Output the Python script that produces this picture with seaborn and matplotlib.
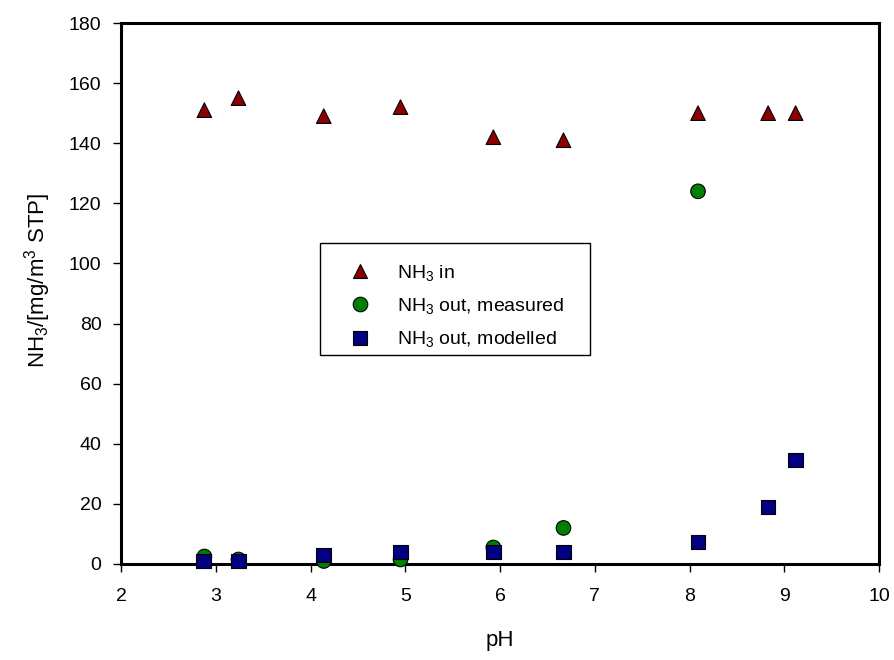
import matplotlib
matplotlib.use("Agg")
import matplotlib.pyplot as plt
from matplotlib.patches import Rectangle
import seaborn as sns
import pandas as pd

ph_in = [2.88, 3.24, 4.14, 4.95, 5.93, 6.67, 8.09, 8.83, 9.12]
nh3_in = [151, 155, 149, 152, 142, 141, 150, 150, 150]

ph_meas = [2.88, 3.24, 4.14, 4.95, 5.93, 6.67, 8.09]
nh3_meas = [2.5, 1.5, 1.0, 1.5, 5.5, 12, 124]

ph_mod = [2.87, 3.24, 4.14, 4.95, 5.93, 6.67, 8.09, 8.83, 9.12]
nh3_mod = [1.0, 1.0, 3.0, 4.0, 4.0, 4.0, 7.3, 19, 34.6]

labels = [r"NH$_3$ in", r"NH$_3$ out, measured", r"NH$_3$ out, modelled"]

df = pd.concat([
    pd.DataFrame({"pH": ph_in, "val": nh3_in, "series": labels[0]}),
    pd.DataFrame({"pH": ph_meas, "val": nh3_meas, "series": labels[1]}),
    pd.DataFrame({"pH": ph_mod, "val": nh3_mod, "series": labels[2]}),
], ignore_index=True)

sns.set_style("ticks")
plt.rcParams["font.family"] = ["Liberation Sans", "DejaVu Sans"]
plt.rcParams["mathtext.fontset"] = "custom"
plt.rcParams["mathtext.rm"] = "Liberation Sans"
plt.rcParams["mathtext.it"] = "Liberation Sans:italic"
plt.rcParams["text.color"] = "black"
plt.rcParams["axes.labelcolor"] = "black"
plt.rcParams["xtick.color"] = "black"
plt.rcParams["ytick.color"] = "black"

W, H = 894, 660
fig = plt.figure(figsize=(W / 100, H / 100), dpi=100)
ax = fig.add_axes([121 / W, 1 - 564 / H, 758 / W, 541 / H])

palette = {labels[0]: "#8b0000", labels[1]: "#008000", labels[2]: "#000080"}
markers = {labels[0]: "^", labels[1]: "o", labels[2]: "s"}
sns.scatterplot(data=df, x="pH", y="val", hue="series", style="series",
                palette=palette, markers=markers, s=110, edgecolor="black",
                linewidth=0.8, ax=ax, zorder=3, clip_on=False)

ax.set_xlim(2, 10)
ax.set_ylim(0, 180)
ax.set_xticks(range(2, 11))
ax.set_yticks(range(0, 181, 20))
ax.tick_params(axis="both", direction="out", length=6, width=1, labelsize=14,
               bottom=True, left=True, top=False, right=False, color="black")
ax.tick_params(axis="y", pad=8)
ax.tick_params(axis="x", pad=11)
for sp in ax.spines.values():
    sp.set_linewidth(2.2)
    sp.set_color("black")
ax.set_xlabel("pH", fontsize=16, labelpad=18)
ax.set_ylabel(r"NH$_3$/[mg/m$^3$ STP]", fontsize=16)
ax.yaxis.set_label_coords(-0.09, 0.525)

leg = ax.legend(loc="upper left", bbox_to_anchor=(340.6 / W, 1 - 263 / H),
                bbox_transform=fig.transFigure, frameon=False,
                fontsize=14, borderpad=0, labelspacing=0.68, handlelength=2.0,
                handletextpad=0.91, borderaxespad=0)
leg.set_zorder(6)
for h in leg.legend_handles:
    h.set_markeredgecolor("black")

ax.add_patch(Rectangle((320 / W, 1 - 355 / H), 270 / W, 112 / H,
                       transform=fig.transFigure, fill=True,
                       facecolor="white", edgecolor="black",
                       linewidth=1.0, zorder=2, clip_on=False))

fig.savefig("out.png", dpi=100)
